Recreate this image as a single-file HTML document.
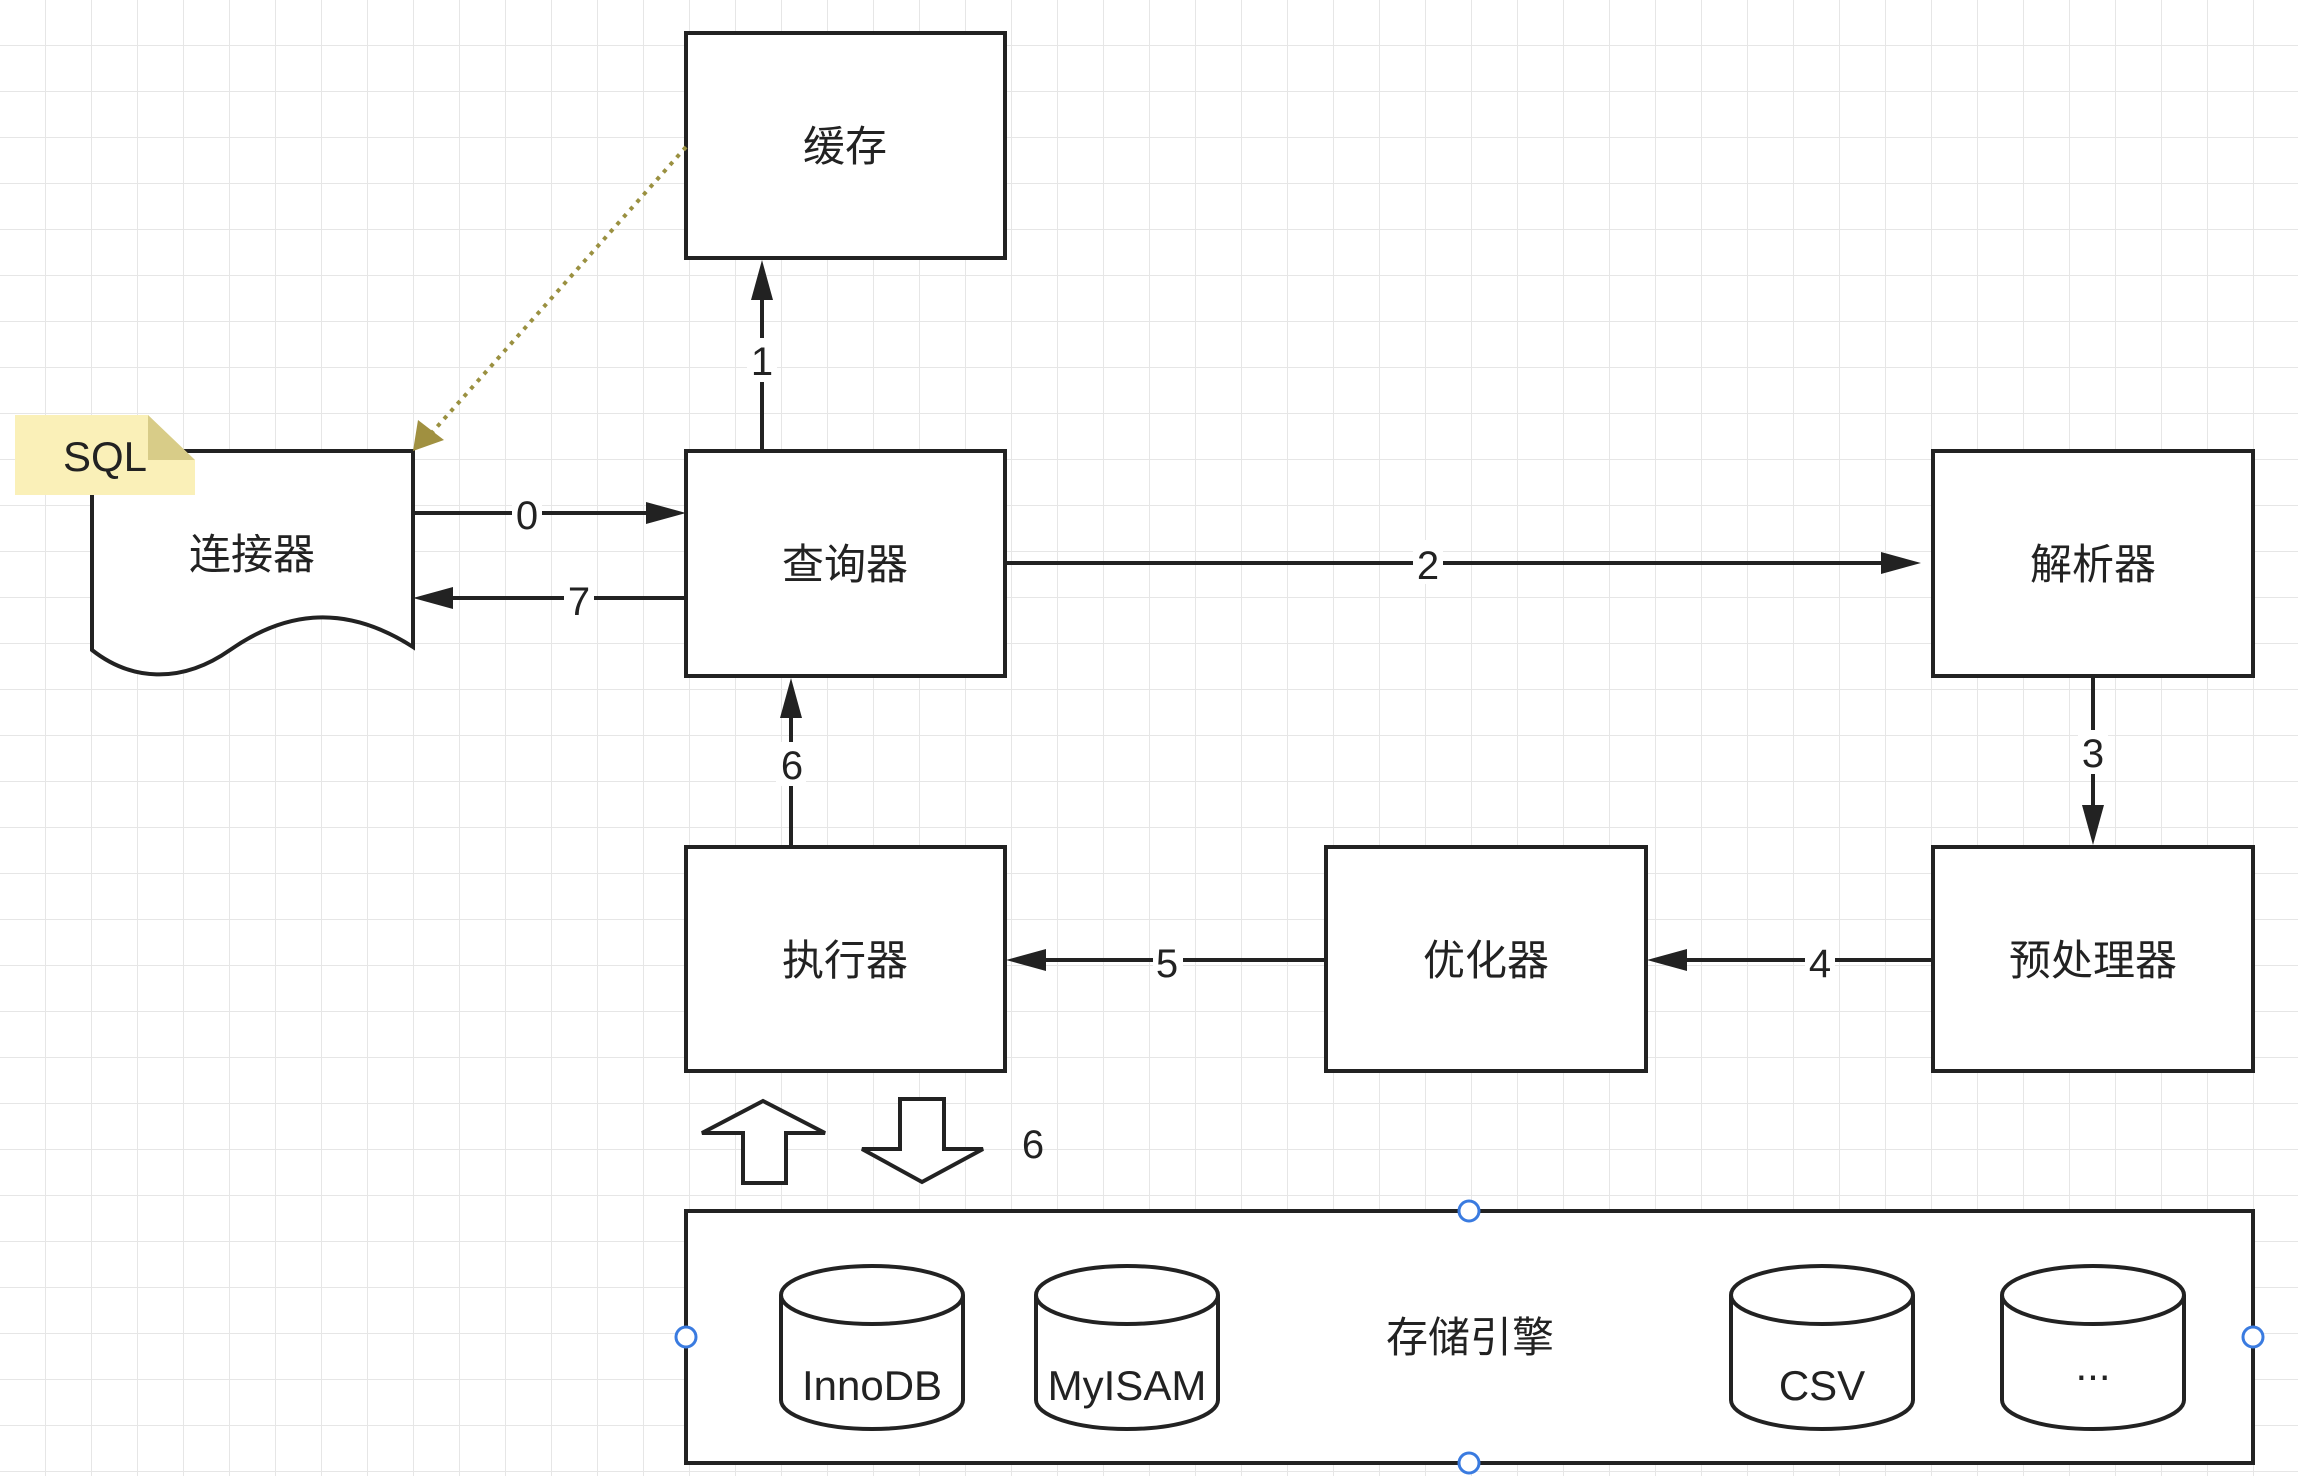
<!DOCTYPE html>
<html><head><meta charset="utf-8"><style>
html,body{margin:0;padding:0;background:#fff}
svg{display:block}
text{font-family:"Liberation Sans","Noto Sans CJK SC",sans-serif;fill:#222}
</style></head><body>
<svg width="2298" height="1476" viewBox="0 0 2298 1476" xmlns="http://www.w3.org/2000/svg">
<defs>
<pattern id="g" width="46" height="46" patternUnits="userSpaceOnUse">
<path d="M46 0V46M0 46H46" stroke="#e6e6e6" stroke-width="2" fill="none"/>
</pattern>
</defs>
<rect width="2298" height="1476" fill="url(#g)"/>
<g fill="#fff" stroke="#222" stroke-width="4">
<rect x="686" y="33" width="319" height="225"/>
<rect x="686" y="451" width="319" height="225"/>
<rect x="1933" y="451" width="320" height="225"/>
<rect x="686" y="847" width="319" height="224"/>
<rect x="1326" y="847" width="320" height="224"/>
<rect x="1933" y="847" width="320" height="224"/>
<rect x="686" y="1211" width="1567" height="252"/>
<path d="M92 451H413V647C340 600 280 615 230 650C180 685 130 680 92 650Z"/>
</g>
<path d="M15 415H148L195 460V495H15Z" fill="#faf0b8"/>
<path d="M148 415V460H195Z" fill="#d8cc88"/>
<text x="105" y="471" font-size="42" text-anchor="middle">SQL</text>
<g font-size="42" text-anchor="middle">
<text x="845" y="161">缓存</text>
<text x="845" y="579">查询器</text>
<text x="2093" y="579">解析器</text>
<text x="252" y="569">连接器</text>
<text x="845" y="975">执行器</text>
<text x="1486" y="975">优化器</text>
<text x="2093" y="975">预处理器</text>
<text x="1470" y="1352">存储引擎</text>
</g>
<g stroke="#222" stroke-width="4" fill="none">
<path d="M413 513H660"/><path d="M686 598H440"/><path d="M1005 563H1905"/>
<path d="M762 451V285"/><path d="M791 847V705"/><path d="M2093 676V820"/>
<path d="M1326 960H1035"/><path d="M1933 960H1675"/>
</g>
<g fill="#222">
<path d="M686 513L646 502V524Z"/><path d="M413 598L453 587V609Z"/>
<path d="M1921 563L1881 552V574Z"/><path d="M762 260L751 300H773Z"/>
<path d="M791 678L780 718H802Z"/><path d="M2093 845L2082 805H2104Z"/>
<path d="M1006 960L1046 949V971Z"/><path d="M1647 960L1687 949V971Z"/>
</g>
<g font-size="40" text-anchor="middle">
<rect x="512" y="490" width="30" height="44" fill="#fff"/><text x="527" y="529">0</text>
<rect x="564" y="576" width="30" height="44" fill="#fff"/><text x="579" y="615">7</text>
<rect x="1413" y="540" width="30" height="44" fill="#fff"/><text x="1428" y="579">2</text>
<rect x="747" y="338" width="30" height="44" fill="#fff"/><text x="762" y="375">1</text>
<rect x="776" y="742" width="30" height="44" fill="#fff"/><text x="792" y="779">6</text>
<rect x="2078" y="730" width="30" height="44" fill="#fff"/><text x="2093" y="767">3</text>
<rect x="1153" y="938" width="30" height="44" fill="#fff"/><text x="1167" y="977">5</text>
<rect x="1805" y="938" width="30" height="44" fill="#fff"/><text x="1820" y="977">4</text>
<text x="1033" y="1158">6</text>
</g>
<path d="M686 147L428 437" stroke="#9a9040" stroke-width="4" stroke-dasharray="4 6" fill="none"/>
<path d="M413 451L418 420L444 440Z" fill="#a09040"/>
<g fill="#fff" stroke="#222" stroke-width="4">
<path d="M743 1183V1133H702L763 1101L825 1133H786V1183Z"/>
<path d="M900 1099V1149H862L922 1182L983 1149H944V1099Z"/>
</g>
<g fill="#fff" stroke="#222" stroke-width="4">
<path d="M781 1295V1400A91 29 0 0 0 963 1400V1295"/><ellipse cx="872" cy="1295" rx="91" ry="29"/>
<path d="M1036 1295V1400A91 29 0 0 0 1218 1400V1295"/><ellipse cx="1127" cy="1295" rx="91" ry="29"/>
<path d="M1731 1295V1400A91 29 0 0 0 1913 1400V1295"/><ellipse cx="1822" cy="1295" rx="91" ry="29"/>
<path d="M2002 1295V1400A91 29 0 0 0 2184 1400V1295"/><ellipse cx="2093" cy="1295" rx="91" ry="29"/>
</g>
<g font-size="42" text-anchor="middle">
<text x="872" y="1400">InnoDB</text><text x="1127" y="1400">MyISAM</text>
<text x="1822" y="1400">CSV</text><text x="2093" y="1380">...</text>
</g>
<g fill="#fff" stroke="#3a7be0" stroke-width="3">
<ellipse cx="1469" cy="1211" rx="10" ry="10"/><ellipse cx="1469" cy="1463" rx="10" ry="10"/>
<ellipse cx="686" cy="1337" rx="10" ry="10"/><ellipse cx="2253" cy="1337" rx="10" ry="10"/>
</g>
</svg>
</body></html>
